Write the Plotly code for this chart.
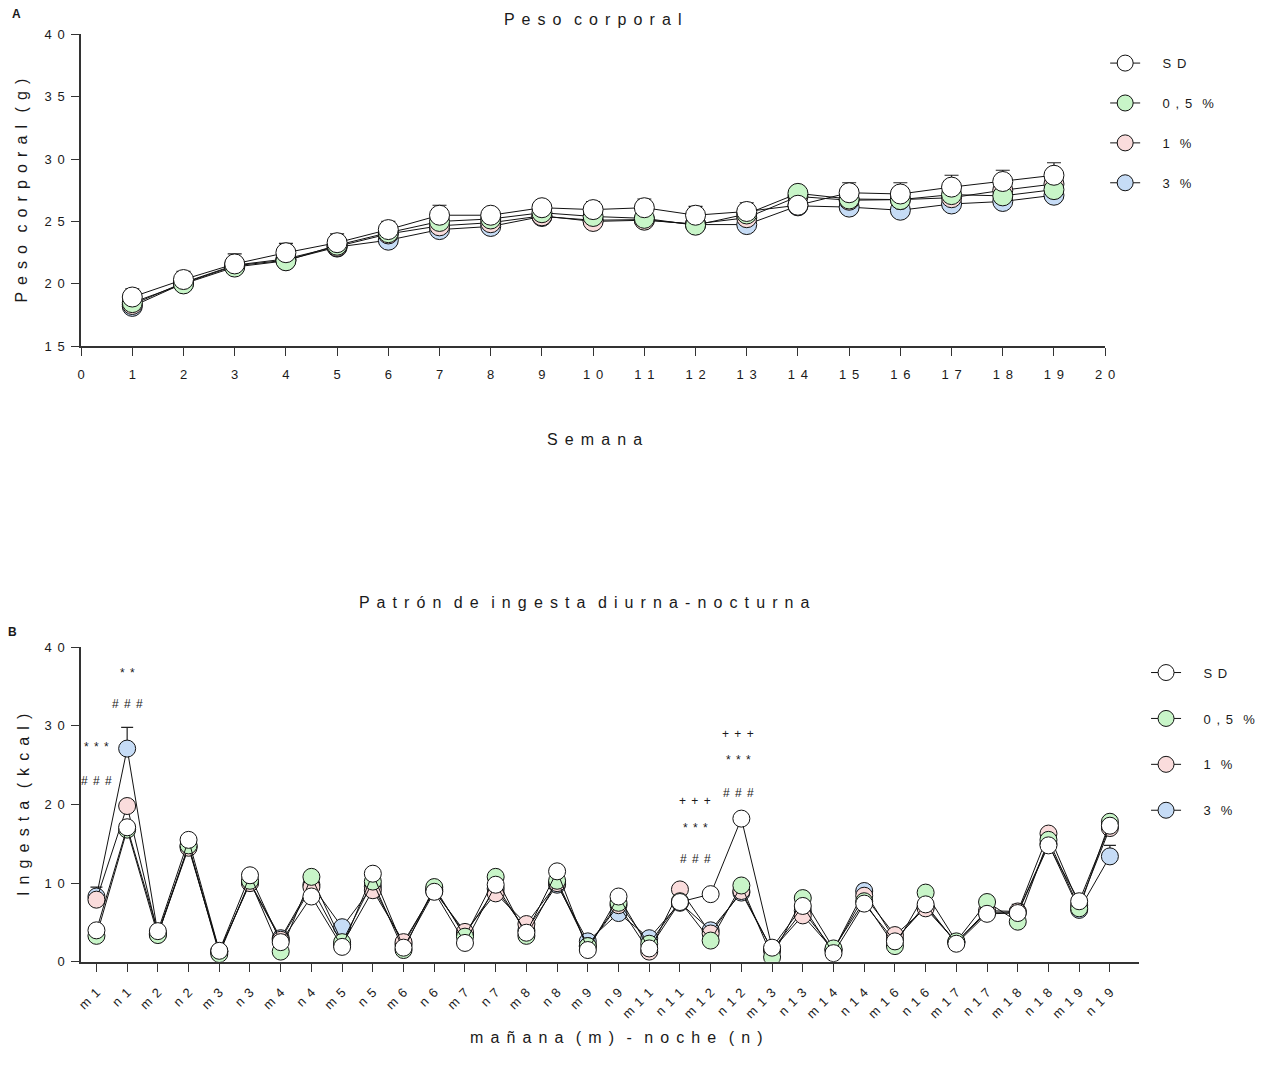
import plotly.graph_objects as go

W, H = 1270, 1075

# ---------------- data ----------------
weeks = list(range(1, 20))
week_ticks = list(range(0, 21))

bw_sd = [18.95, 20.35, 21.6, 22.5, 23.3, 24.35, 25.5, 25.5, 26.1, 25.95, 26.1, 25.5, 25.8, 26.3, 27.3, 27.2, 27.75, 28.2, 28.7]
bw_05 = [18.5, 20.0, 21.35, 21.85, 23.1, 24.1, 25.0, 25.2, 25.7, 25.4, 25.25, 24.7, 25.6, 27.25, 26.8, 26.75, 27.15, 27.05, 27.55]
bw_1 = [18.35, 20.1, 21.5, 22.0, 23.0, 24.0, 24.65, 24.9, 25.45, 25.0, 25.1, 24.8, 25.3, 27.0, 26.7, 26.75, 26.9, 27.5, 28.0]
bw_3 = [18.2, 20.05, 21.45, 21.9, 22.95, 23.5, 24.35, 24.6, 25.4, 25.1, 25.15, 24.75, 24.75, 26.25, 26.15, 25.9, 26.4, 26.6, 27.1]
bw_sd_err = [0.65, 0.65, 0.8, 0.75, 0.7, 0.65, 0.8, 0.5, 0.5, 0.65, 0.7, 0.7, 0.7, 0.4, 0.8, 0.9, 0.95, 0.9, 1.0]

cats = ["m1", "n1", "m2", "n2", "m3", "n3", "m4", "n4", "m5", "n5", "m6", "n6",
        "m7", "n7", "m8", "n8", "m9", "n9", "m11", "n11", "m12", "n12", "m13", "n13",
        "m14", "n14", "m16", "n16", "m17", "n17", "m18", "n18", "m19", "n19"]
in_sd = [4.0, 17.1, 3.9, 15.5, 1.4, 11.0, 2.5, 8.3, 1.9, 11.2, 1.8, 8.9, 2.4, 9.8, 3.7, 11.5, 1.5, 8.3,
         1.7, 7.6, 8.6, 18.2, 1.8, 7.1, 1.1, 7.4, 2.6, 7.3, 2.3, 6.1, 6.2, 14.8, 7.7, 17.3]
in_05 = [3.3, 16.8, 3.4, 14.8, 1.0, 10.3, 1.3, 10.8, 2.5, 10.2, 1.5, 9.5, 3.2, 10.8, 3.3, 10.3, 2.0, 7.5,
         2.3, 7.7, 2.7, 9.7, 0.6, 8.1, 1.7, 7.7, 2.0, 8.8, 2.6, 7.6, 5.1, 15.5, 6.8, 17.8]
in_1 = [7.9, 19.8, 3.5, 14.5, 1.3, 10.0, 2.8, 9.5, 2.2, 9.1, 2.5, 9.0, 3.8, 8.7, 4.8, 10.0, 2.0, 7.2,
        1.3, 9.2, 3.6, 9.0, 1.5, 5.9, 1.5, 8.4, 3.4, 6.8, 2.5, 6.5, 6.4, 16.3, 7.2, 17.0]
in_3 = [8.3, 27.1, 3.6, 14.7, 1.3, 10.1, 3.0, 9.8, 4.4, 9.6, 2.2, 9.2, 3.5, 9.3, 4.0, 9.8, 2.6, 6.2,
        3.0, 7.5, 4.0, 8.8, 1.5, 6.5, 1.5, 9.0, 2.8, 7.0, 2.5, 6.3, 6.3, 15.0, 6.6, 13.4]
in_3_err = [1.2, 2.7, 0, 0, 0, 0, 0.8, 0, 0, 0, 0, 0, 0, 0, 0, 0, 0, 0,
            0, 0, 0, 0, 0, 0, 0, 0.8, 0, 0, 0, 0, 1.0, 0, 0, 1.4]

series_names = ["SD", "0,5 %", "1 %", "3 %"]
series_colors = ["#ffffff", "#c8f5c8", "#fadcdc", "#c6dcf6"]

# significance marks: (x index, y value, text)
sig_marks = [(1, 36.7, "**"), (1, 32.8, "###"),
             (0, 27.3, "***"), (0, 23.0, "###"),
             (19.5, 20.4, "+++"), (19.5, 17.0, "***"), (19.5, 13.1, "###"),
             (20.9, 29.0, "+++"), (20.9, 25.6, "***"), (20.9, 21.5, "###")]

# ---------------- helpers ----------------
FONT = "Liberation Sans, Arial, sans-serif"
TXT = "#1a1a1a"
LG = " \u2006"        # letter gap
WG = "\u2002 "        # word gap
LEG_PAD = "\u2003\u2004"

# the captured page is slightly scaled/offset; map reference pixels to figure coordinates
SX, OX = 0.991, 4.7
SY, OY = 0.9853, 7.9


def sp(s):
    words = s.split(" ")
    return WG.join(LG.join(list(w)) for w in words)


def xp(px):
    return ((px - OX) / SX) / W


def yp(py):
    return 1 - ((py - OY) / SY) / H


fig = go.Figure()

top_data = [bw_sd, bw_05, bw_1, bw_3]
bot_data = [in_sd, in_05, in_1, in_3]

# draw order: 3%, 1%, 0.5%, SD (SD on top)
for i in [3, 2, 1, 0]:
    err = None
    if i == 0:
        err = dict(type="data", symmetric=False, array=bw_sd_err, arrayminus=[0] * len(weeks),
                   color="#222", thickness=1.2, width=7)
    fig.add_trace(go.Scatter(
        x=weeks, y=top_data[i], mode="lines+markers",
        name=LEG_PAD + sp(series_names[i]), legend="legend", legendgroup="t%d" % i, legendrank=i + 1,
        line=dict(color="#111", width=1),
        marker=dict(size=20, color=series_colors[i], line=dict(color="#111", width=1)),
        error_y=err, xaxis="x", yaxis="y"))

for i in [3, 2, 1, 0]:
    err = None
    if i == 3:
        err = dict(type="data", symmetric=False, array=in_3_err, arrayminus=[0] * len(cats),
                   color="#222", thickness=1.2, width=6)
    fig.add_trace(go.Scatter(
        x=list(range(len(cats))), y=bot_data[i], mode="lines+markers",
        name=LEG_PAD + sp(series_names[i]), legend="legend2", legendgroup="b%d" % i, legendrank=i + 1,
        line=dict(color="#111", width=1),
        marker=dict(size=17, color=series_colors[i], line=dict(color="#111", width=1)),
        error_y=err, xaxis="x2", yaxis="y2"))

axis_common = dict(showgrid=False, zeroline=False, showline=True, linecolor="#333", linewidth=1.5,
                   ticks="outside", ticklen=8, tickwidth=1.2, tickcolor="#333",
                   tickfont=dict(family=FONT, size=13, color=TXT))

fig.update_layout(
    width=W, height=H, autosize=False,
    margin=dict(l=0, r=0, t=0, b=0),
    paper_bgcolor="white", plot_bgcolor="white",
    font=dict(family=FONT, color=TXT),
    xaxis=dict(domain=[xp(81), xp(1108)], range=[0, 20], tickmode="array",
               tickvals=week_ticks, ticktext=[sp(str(v)) for v in week_ticks],
               anchor="y", ticklabelstandoff=7, **axis_common),
    yaxis=dict(domain=[yp(347), yp(35)], range=[15, 40], tickmode="array",
               tickvals=[15, 20, 25, 30, 35, 40], ticktext=[sp(str(v)) for v in [15, 20, 25, 30, 35, 40]],
               anchor="x", ticklabelstandoff=4, **axis_common),
    xaxis2=dict(domain=[xp(81), xp(1142)], range=[-0.5, 33.95], tickmode="array",
                tickvals=list(range(len(cats))), ticktext=[sp(c) for c in cats], tickangle=-45,
                anchor="y2", ticklabelstandoff=8, **axis_common),
    yaxis2=dict(domain=[yp(962), yp(647.5)], range=[0, 40], tickmode="array",
                tickvals=[0, 10, 20, 30, 40], ticktext=[sp(str(v)) for v in [0, 10, 20, 30, 40]],
                anchor="x2", ticklabelstandoff=4, **axis_common),
    legend=dict(x=xp(1108), y=yp(49), xanchor="left", yanchor="top",
                font=dict(family=FONT, size=13, color=TXT), bgcolor="rgba(0,0,0,0)",
                tracegroupgap=20, traceorder="grouped"),
    legend2=dict(x=xp(1149), y=yp(658), xanchor="left", yanchor="top",
                 font=dict(family=FONT, size=13, color=TXT), bgcolor="rgba(0,0,0,0)",
                 tracegroupgap=26, traceorder="grouped"),
)

ann = []


def add_text(px, py, text, size, angle=0, bold=False):
    t = "<b>%s</b>" % text if bold else text
    ann.append(dict(x=xp(px), y=yp(py), xref="paper", yref="paper", text=t, showarrow=False,
                    textangle=angle, xanchor="center", yanchor="middle",
                    font=dict(family=FONT, size=size, color=TXT)))


add_text(16, 15, "A", 12, bold=True)
add_text(12, 632, "B", 12, bold=True)
add_text(594, 20, sp("Peso corporal"), 16)
add_text(596, 440, sp("Semana"), 16)
add_text(21, 191, sp("Peso corporal (g)"), 16, angle=-90)
add_text(586, 603, sp("Patrón de ingesta diurna-nocturna"), 16)
add_text(617, 1038, sp("mañana (m) - noche (n)"), 16)
add_text(23, 805, sp("Ingesta (kcal)"), 16, angle=-90)

for xi, yv, t in sig_marks:
    ann.append(dict(x=xi, y=yv, xref="x2", yref="y2", text=sp(t), showarrow=False,
                    xanchor="center", yanchor="middle",
                    font=dict(family=FONT, size=12, color=TXT)))

fig.update_layout(annotations=ann)

fig.write_html("out.html")
